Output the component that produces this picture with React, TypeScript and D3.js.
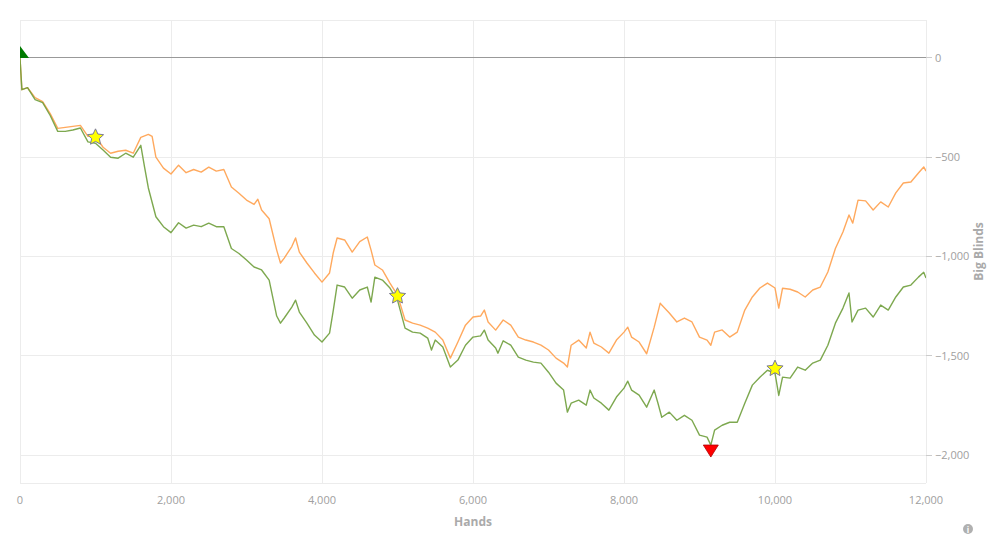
import { useEffect } from 'react';
import * as d3 from 'd3';

// [hands, big blinds]
const orangeSeries: [number, number][] = [
  [0, 0], [25, -160], [100, -150], [200, -200], [300, -220], [400, -280], [500, -355], [600, -350],
  [700, -345], [800, -340], [900, -395], [1000, -395], [1100, -450], [1200, -480], [1300, -470],
  [1400, -465], [1500, -480], [1600, -400], [1700, -385], [1750, -395], [1800, -500], [1900, -555],
  [2000, -585], [2100, -540], [2200, -578], [2300, -562], [2400, -575], [2500, -550], [2600, -570],
  [2700, -562], [2800, -650], [2900, -682], [3000, -716], [3100, -738], [3150, -712], [3200, -766],
  [3300, -810], [3400, -968], [3450, -1033], [3500, -1008], [3600, -950], [3650, -907], [3700, -978],
  [3800, -1033], [3900, -1083], [4000, -1129], [4100, -1083], [4150, -980], [4200, -907], [4300, -917],
  [4400, -978], [4500, -925], [4600, -902], [4650, -968], [4700, -1043], [4800, -1068], [4900, -1134],
  [5000, -1195], [5100, -1320], [5200, -1336], [5300, -1346], [5400, -1361], [5500, -1381], [5600, -1421],
  [5700, -1512], [5800, -1431], [5900, -1346], [6000, -1305], [6100, -1300], [6150, -1270], [6200, -1330],
  [6300, -1371], [6400, -1320], [6500, -1346], [6600, -1406], [6700, -1421], [6800, -1431], [6900, -1447],
  [7000, -1471], [7100, -1512], [7200, -1537], [7250, -1557], [7300, -1447], [7400, -1421], [7500, -1461],
  [7550, -1381], [7600, -1436], [7700, -1456], [7800, -1487], [7900, -1421], [8000, -1381], [8050, -1356],
  [8100, -1406], [8200, -1431], [8300, -1490], [8400, -1356], [8480, -1235], [8500, -1245], [8600, -1285],
  [8700, -1330], [8800, -1310], [8900, -1330], [9000, -1406], [9100, -1421], [9150, -1447], [9200, -1381],
  [9300, -1370], [9400, -1406], [9500, -1381], [9600, -1270], [9700, -1204], [9800, -1159], [9900, -1134],
  [10000, -1159], [10050, -1260], [10100, -1160], [10200, -1165], [10300, -1179], [10400, -1204],
  [10500, -1169], [10600, -1154], [10700, -1078], [10800, -960], [10900, -877], [10980, -791],
  [11030, -832], [11100, -716], [11200, -720], [11300, -766], [11400, -725], [11500, -751], [11600, -680],
  [11700, -630], [11800, -625], [11900, -580], [11970, -549], [12000, -570],
];

const greenSeries: [number, number][] = [
  [0, 0], [25, -160], [100, -150], [200, -210], [300, -225], [400, -290], [500, -370], [600, -370],
  [700, -363], [800, -353], [900, -423], [1000, -430], [1100, -464], [1200, -500], [1300, -505],
  [1400, -480], [1500, -500], [1600, -440], [1650, -550], [1700, -655], [1800, -800], [1900, -850],
  [2000, -880], [2100, -830], [2200, -857], [2300, -842], [2400, -850], [2500, -832], [2600, -850],
  [2700, -850], [2800, -960], [2900, -985], [3000, -1018], [3100, -1053], [3200, -1068], [3300, -1119],
  [3400, -1300], [3450, -1336], [3500, -1310], [3600, -1255], [3650, -1220], [3700, -1280], [3800, -1336],
  [3900, -1396], [4000, -1431], [4100, -1386], [4150, -1270], [4200, -1144], [4300, -1154], [4400, -1210],
  [4500, -1169], [4600, -1154], [4650, -1230], [4700, -1104], [4800, -1119], [4900, -1159], [5000, -1220],
  [5100, -1361], [5200, -1381], [5300, -1386], [5400, -1411], [5450, -1471], [5500, -1421], [5600, -1456],
  [5700, -1557], [5800, -1522], [5900, -1447], [6000, -1406], [6100, -1400], [6150, -1371], [6200, -1421],
  [6300, -1461], [6330, -1487], [6400, -1425], [6500, -1447], [6600, -1507], [6700, -1522], [6800, -1532],
  [6900, -1537], [7000, -1583], [7100, -1638], [7200, -1673], [7250, -1784], [7300, -1739], [7400, -1724],
  [7500, -1749], [7550, -1673], [7600, -1713], [7700, -1739], [7800, -1774], [7900, -1708], [8000, -1663],
  [8050, -1628], [8100, -1673], [8200, -1698], [8300, -1759], [8400, -1673], [8450, -1739], [8500, -1810],
  [8600, -1784], [8700, -1825], [8800, -1800], [8900, -1825], [9000, -1900], [9100, -1910], [9150, -1950],
  [9200, -1875], [9300, -1850], [9400, -1835], [9500, -1835], [9600, -1739], [9700, -1648], [9800, -1608],
  [9900, -1573], [10000, -1588], [10050, -1700], [10100, -1608], [10200, -1613], [10300, -1557],
  [10400, -1573], [10500, -1537], [10600, -1522], [10700, -1447], [10800, -1336], [10900, -1260],
  [10980, -1184], [11020, -1330], [11100, -1270], [11200, -1260], [11300, -1305], [11400, -1245],
  [11500, -1270], [11600, -1204], [11700, -1154], [11800, -1144], [11900, -1104], [11970, -1080],
  [12000, -1109],
];

const starMarkers: [number, number][] = [[1000, -400], [5000, -1200], [10000, -1565]];
const startMarker: [number, number] = [0, 30];
const minMarker: [number, number] = [9150, -1980];

const xTicks = [0, 2000, 4000, 6000, 8000, 10000, 12000];
const yTicks = [0, -500, -1000, -1500, -2000];

const W = 994;
const H = 540;
const PLOT = { left: 20, right: 926, top: 20, bottom: 483 };
const FONT = '"Open Sans", "Liberation Sans", Arial, sans-serif';

// five-point star with a fairly fat body
function starPath(r: number, inner: number): string {
  const pts = d3.range(10).map((i) => {
    const a = (i * Math.PI) / 5 - Math.PI / 2;
    const rr = i % 2 === 0 ? r : r * inner;
    return [Math.cos(a) * rr, Math.sin(a) * rr] as [number, number];
  });
  return d3.line()(pts) + 'Z';
}

export default function App() {
  useEffect(() => {
    document.body.style.margin = '0';
  }, []);

  const x = d3.scaleLinear().domain([0, 12000]).range([PLOT.left, PLOT.right]);
  const y = d3.scaleLinear().domain([191, -2141]).range([PLOT.top, PLOT.bottom]);
  const fmt = d3.format(',');

  const line = d3.line<[number, number]>()
    .x((d) => x(d[0]))
    .y((d) => y(d[1]));

  const star = starPath(8.5, 0.48);

  const [sx, sy] = [x(startMarker[0]), y(startMarker[1])];
  const [mx, my] = [x(minMarker[0]), y(minMarker[1])];

  return (
    <svg width={W} height={H} style={{ display: 'block', background: '#fff' }}>
      <defs>
        <clipPath id="plot-clip">
          <rect x={PLOT.left} y={PLOT.top} width={PLOT.right - PLOT.left} height={PLOT.bottom - PLOT.top} />
        </clipPath>
      </defs>

      {/* grid */}
      <g stroke="#ececec" strokeWidth={1} shapeRendering="crispEdges">
        {xTicks.map((t) => (
          <line key={`gx${t}`} x1={x(t)} x2={x(t)} y1={PLOT.top} y2={PLOT.bottom} />
        ))}
        {yTicks.map((t) => (
          <line key={`gy${t}`} x1={PLOT.left} x2={PLOT.right} y1={y(t)} y2={y(t)} />
        ))}
        <line x1={PLOT.left} x2={PLOT.right} y1={PLOT.top} y2={PLOT.top} />
        <line x1={PLOT.left} x2={PLOT.right} y1={PLOT.bottom} y2={PLOT.bottom} />
      </g>

      {/* zero line */}
      <line x1={PLOT.left} x2={PLOT.right} y1={y(0)} y2={y(0)} stroke="#999" strokeWidth={1} shapeRendering="crispEdges" />

      {/* y ticks + labels */}
      {yTicks.map((t) => (
        <g key={`yt${t}`}>
          <line x1={PLOT.right} x2={PLOT.right + 6} y1={y(t)} y2={y(t)} stroke="#ccc" shapeRendering="crispEdges" />
          <text x={PLOT.right + 9} y={y(t) + 4} fontFamily={FONT} fontSize={11} fill="#a0a0a0">
            {fmt(t)}
          </text>
        </g>
      ))}

      {/* x labels */}
      {xTicks.map((t) => (
        <text key={`xt${t}`} x={x(t)} y={504} textAnchor="middle" fontFamily={FONT} fontSize={11} fill="#a0a0a0">
          {fmt(t)}
        </text>
      ))}

      <text x={(PLOT.left + PLOT.right) / 2} y={526} textAnchor="middle" fontFamily={FONT} fontSize={12} fontWeight="bold" fill="#aaa">
        Hands
      </text>
      <text transform={`translate(983,${(PLOT.top + PLOT.bottom) / 2}) rotate(-90)`} textAnchor="middle" fontFamily={FONT} fontSize={12} fontWeight="bold" fill="#aaa">
        Big Blinds
      </text>

      {/* series */}
      <g clipPath="url(#plot-clip)">
        <path d={line(orangeSeries) ?? ''} fill="none" stroke="#ffa04c" strokeWidth={1.4} strokeLinejoin="round" strokeOpacity={0.9} />
        <path d={line(greenSeries) ?? ''} fill="none" stroke="#6f9f3c" strokeWidth={1.4} strokeLinejoin="round" strokeOpacity={0.9} />
        <path d={`M${sx},${sy - 6}L${sx + 9},${sy + 6}L${sx - 9},${sy + 6}Z`} fill="#007a00" />
      </g>

      {/* markers */}
      {starMarkers.map(([h, v]) => (
        <path key={`s${h}`} d={star} transform={`translate(${x(h)},${y(v)})`} fill="#ffff00" stroke="#7a7a99" strokeWidth={1} />
      ))}
      <path d={`M${mx - 7.5},${my - 6}L${mx + 7.5},${my - 6}L${mx},${my + 6}Z`} fill="#ff0000" stroke="#b00000" strokeWidth={0.8} />

      {/* info icon */}
      <circle cx={968} cy={529} r={5} fill="#b0b0b0" />
      <text x={968} y={532.5} textAnchor="middle" fontFamily={FONT} fontSize={8} fontWeight="bold" fill="#fff">
        i
      </text>
    </svg>
  );
}
